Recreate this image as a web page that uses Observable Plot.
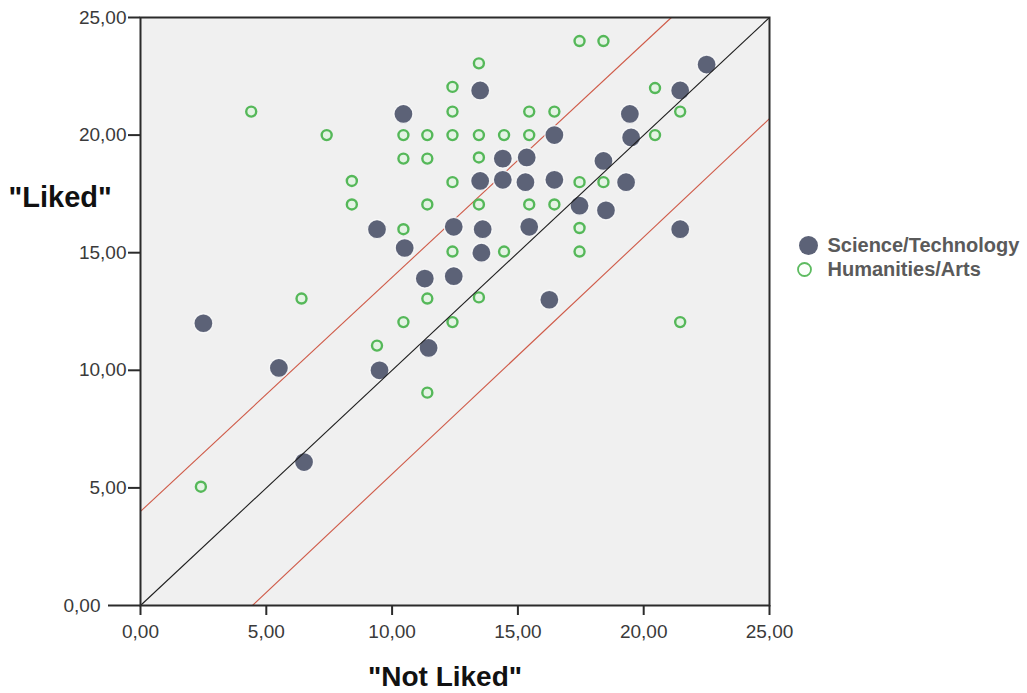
<!DOCTYPE html>
<html>
<head>
<meta charset="utf-8">
<script src="https://cdn.jsdelivr.net/npm/d3@7"></script>
<script src="https://cdn.jsdelivr.net/npm/@observablehq/plot@0.6"></script>
<style>
  html, body { margin: 0; padding: 0; background: #fff; }
  #chart { width: 1027px; height: 693px; }
</style>
</head>
<body>
<div id="chart"></div>
<script>
// ---- data ----
const categories = ["Science/Technology", "Humanities/Arts"];
const ticks = [0, 5, 10, 15, 20, 25];
const xTitle = "\"Not Liked\"";
const yTitle = "\"Liked\"";

const sciX = [2.5, 5.5, 6.5, 9.4, 9.5, 10.45, 10.5, 11.3, 11.45, 12.45, 12.45, 13.5, 13.5, 13.6, 13.55, 14.4, 14.4, 15.35, 15.3, 15.45, 16.45, 16.45, 16.25, 17.45, 18.4, 18.5, 19.3, 19.45, 19.5, 21.45, 21.45, 22.5];
const sciY = [12.0, 10.1, 6.1, 16.0, 10.0, 20.9, 15.2, 13.9, 10.95, 16.1, 14.0, 21.9, 18.05, 16.0, 15.0, 19.0, 18.1, 19.05, 18.0, 16.1, 20.0, 18.1, 13.0, 17.0, 18.9, 16.8, 18.0, 20.9, 19.9, 21.9, 16.0, 23.0];

const humX = [2.4, 4.4, 6.4, 7.4, 8.4, 8.4, 9.4, 10.45, 10.45, 10.45, 10.45, 11.4, 11.4, 11.4, 11.4, 11.4, 12.4, 12.4, 12.4, 12.4, 12.4, 12.4, 13.45, 13.45, 13.45, 13.45, 13.45, 14.45, 14.45, 15.45, 15.45, 15.45, 16.45, 16.45, 17.45, 17.45, 17.45, 17.45, 18.4, 18.4, 20.45, 20.45, 21.45, 21.45];
const humY = [5.05, 21.0, 13.05, 20.0, 18.05, 17.05, 11.05, 20.0, 19.0, 16.0, 12.05, 20.0, 19.0, 17.05, 13.05, 9.05, 22.05, 21.0, 20.0, 18.0, 15.05, 12.05, 23.05, 20.0, 19.05, 17.05, 13.1, 20.0, 15.05, 21.0, 20.0, 17.05, 21.0, 17.05, 24.0, 18.0, 16.05, 15.05, 24.0, 18.0, 22.0, 20.0, 21.0, 12.05];

// reference lines (data units): identity and two bands
const refBlack = {x1: 0, y1: 0, x2: 25, y2: 25};
const refRedUpper = {x1: 0, y1: 4.0, x2: 21.1, y2: 25};
const refRedLower = {x1: 4.45, y1: 0, x2: 25, y2: 20.7};

// ---- build tables ----
const sci = sciX.map((x, i) => ({x, y: sciY[i], group: categories[0]}));
const hum = humX.map((x, i) => ({x, y: humY[i], group: categories[1]}));

const fmt = d => d.toFixed(2).replace(".", ",");
const font = "'Liberation Sans', Arial, sans-serif";

const chart = Plot.plot({
  width: 1027,
  height: 693,
  marginLeft: 140,
  marginRight: 258,
  marginTop: 17,
  marginBottom: 88,
  style: {fontFamily: font, background: "#fff", overflow: "visible"},
  x: {domain: [0, 25], axis: null},
  y: {domain: [0, 25], axis: null},
  marks: [
    Plot.frame({fill: "#f0f0f0", stroke: null}),
    Plot.link([refRedUpper, refRedLower], {x1: "x1", y1: "y1", x2: "x2", y2: "y2", stroke: "#cf5a48", strokeWidth: 1.1}),
    Plot.dot(hum, {x: "x", y: "y", r: 5, stroke: "#55b859", strokeWidth: 2.4, fill: "#e4f3e4"}),
    Plot.dot(sci, {x: "x", y: "y", r: 9.5, fill: "#5c6277", stroke: "#ffffff", strokeWidth: 1.3, strokeOpacity: 0.85}),
    Plot.link([refBlack], {x1: "x1", y1: "y1", x2: "x2", y2: "y2", stroke: "#1e1e1e", strokeWidth: 1.1}),
    Plot.frame({stroke: "#2b2b2b", strokeWidth: 2}),
    Plot.axisX(ticks, {tickSize: 10, tickPadding: 9, tickFormat: fmt, fontSize: 19, fill: "#3a3a3a", stroke: "#2b2b2b", strokeWidth: 2, label: null}),
    Plot.axisY(ticks.filter(d => d > 0), {tickSize: 12, tickPadding: 2, tickFormat: fmt, fontSize: 19, fill: "#3a3a3a", stroke: "#2b2b2b", strokeWidth: 2, label: null}),
    Plot.axisY(ticks.filter(d => d === 0), {tickSize: 32, tickPadding: 8, tickFormat: fmt, fontSize: 19, fill: "#3a3a3a", stroke: "#2b2b2b", strokeWidth: 2, label: null}),
    // axis titles
    Plot.text([yTitle], {text: d => d, frameAnchor: "top-left", dx: -132, dy: 180, textAnchor: "start", lineAnchor: "middle", fontSize: 29, fontWeight: "bold", fill: "#111"}),
    Plot.text([xTitle], {text: d => d, frameAnchor: "bottom", dx: -10, dy: 72, textAnchor: "middle", lineAnchor: "middle", fontSize: 28, fontWeight: "bold", fill: "#111"}),
    // legend
    Plot.dot([categories[0]], {frameAnchor: "top-right", dx: 39, dy: 228, r: 9.5, fill: "#5c6277"}),
    Plot.dot([categories[1]], {frameAnchor: "top-right", dx: 35, dy: 252, r: 6.5, stroke: "#5dbb60", strokeWidth: 1.8, fill: "#fbfffb"}),
    Plot.text([categories[0]], {text: d => d, frameAnchor: "top-right", dx: 58, dy: 228, textAnchor: "start", lineAnchor: "middle", fontSize: 20, fontWeight: "bold", fill: "#5a5a5a"}),
    Plot.text([categories[1]], {text: d => d, frameAnchor: "top-right", dx: 58, dy: 252, textAnchor: "start", lineAnchor: "middle", fontSize: 20, fontWeight: "bold", fill: "#5a5a5a"})
  ]
});
document.getElementById("chart").appendChild(chart);
</script>
</body>
</html>
